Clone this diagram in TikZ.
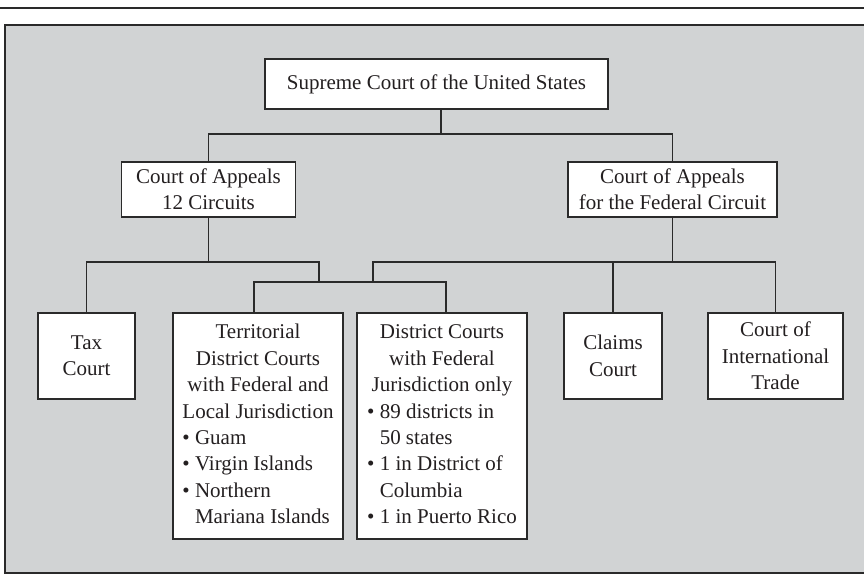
\documentclass[tikz,border=0pt]{standalone}
\usepackage{fontspec}
\setmainfont{Liberation Serif}
\usepackage{array}
\definecolor{bggray}{HTML}{D1D3D4}
\definecolor{linec}{HTML}{2A2A2A}
\definecolor{textc}{HTML}{231F20}
\newcommand\ctrline[1]{\multicolumn{1}{@{}c@{}}{#1}}
\newcommand\indt{\hspace*{12.6pt}}
\tikzset{
  court/.style={draw=linec, line width=1.4pt, fill=white, inner sep=0pt,
    text=textc, font=\fontsize{21}{26.4}\selectfont, align=center},
  link/.style={draw=linec, line width=1.3pt}
}
\begin{document}
\begin{tikzpicture}[x=1pt,y=-1pt]
\useasboundingbox (0,0) rectangle (864,581);
% top rule and background panel
\draw[linec, line width=1.8pt] (0,8) -- (864,8);
\draw[draw=linec, line width=1.4pt, fill=bggray] (5,25) rectangle (867,573);

% nodes
\node[court, minimum width=343pt, minimum height=50pt] (sup) at (436.5,84)
  {Supreme Court of the United States};
\node[court, minimum width=174pt, minimum height=55pt] (ca1) at (208.5,189.5)
  {Court of Appeals\\12 Circuits};
\node[court, minimum width=209pt, minimum height=55pt] (ca2) at (672.5,189.5)
  {Court of Appeals\\for the Federal Circuit};
\node[court, minimum width=97pt, minimum height=86pt] (tax) at (86.5,356)
  {Tax\\Court};
\node[court, minimum width=170pt, minimum height=226pt] (terr) at (258,426)
  {\begin{tabular}{@{}l@{}}
   \ctrline{Territorial}\\
   \ctrline{District Courts}\\
   \ctrline{with Federal and}\\
   Local Jurisdiction\\
   • Guam\\
   • Virgin Islands\\
   • Northern\\
   \indt Mariana Islands
   \end{tabular}};
\node[court, minimum width=170pt, minimum height=226pt] (dist) at (442,426)
  {\begin{tabular}{@{}l@{}}
   \ctrline{District Courts}\\
   \ctrline{with Federal}\\
   \ctrline{Jurisdiction only}\\
   • 89 districts in\\
   \indt 50 states\\
   • 1 in District of\\
   \indt Columbia\\
   • 1 in Puerto Rico
   \end{tabular}};
\node[court, minimum width=98pt, minimum height=86pt] (claims) at (613,356)
  {Claims\\Court};
\node[court, minimum width=135pt, minimum height=86pt] (intl) at (775.5,356)
  {Court of\\International\\Trade};

% junctions
\coordinate (j1) at (441,134);
\coordinate (j2) at (208.5,262);
\coordinate (j3) at (319,282);
\coordinate (j4) at (373,282);
\coordinate (j5) at (672.5,262);
\coordinate (t1) at (254,282);
\coordinate (d1) at (446,282);

% connectors
\draw[link] (sup.south -| j1) -- (j1);
\draw[link] (ca1.north) |- (j1) -| (ca2.north);
\draw[link] (ca1.south) -- (j2);
\draw[link] (tax.north) |- (j2) -| (j3);
\draw[link] (terr.north -| t1) -- (t1) -- (d1) -- (dist.north -| d1);
\draw[link] (ca2.south) -- (j5);
\draw[link] (j4) |- (j5) -| (intl.north);
\draw[link] (claims.north) -- (claims.north |- j5);
\end{tikzpicture}
\end{document}
